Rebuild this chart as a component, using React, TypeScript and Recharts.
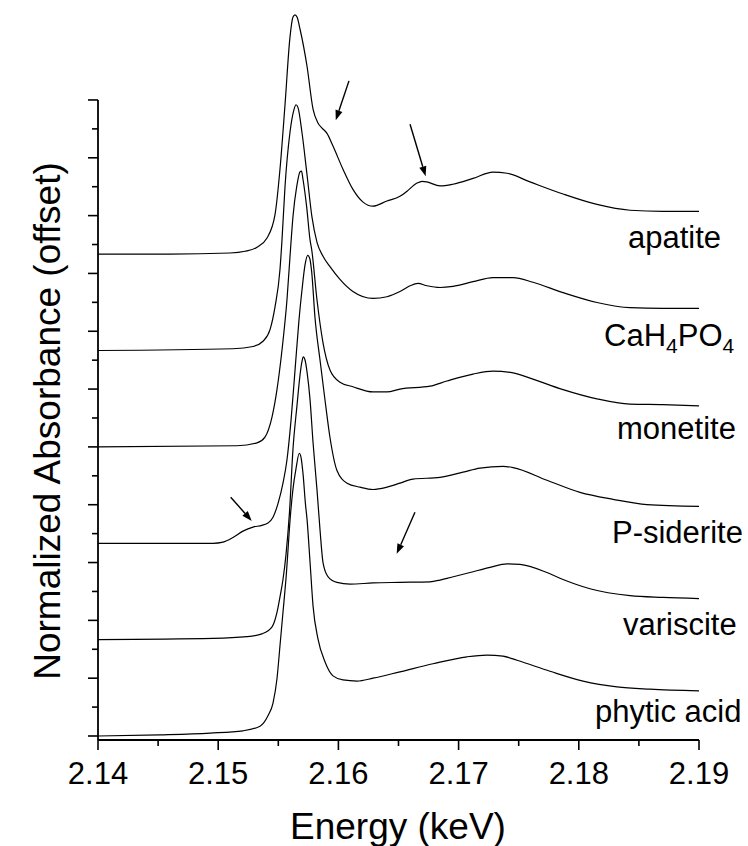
import React from 'react';
import { LineChart, Line, XAxis, YAxis, ReferenceLine, ReferenceDot, Label } from 'recharts';

const FONT = '"Liberation Sans", Arial, Helvetica, sans-serif';

const SAMPLES = ['apatite', 'CaH4PO4', 'monetite', 'P-siderite', 'variscite', 'phytic acid'];

// vertical offset added to each normalized spectrum
const OFFSETS = [8.333, 6.667, 5.0, 3.333, 1.667, 0];

// P K-edge XANES, energy in keV and normalized absorbance (no offset)
const apatiteE = [2.14, 2.14599, 2.15098, 2.15223, 2.15323, 2.15406, 2.15473, 2.15514, 2.15556, 2.15597, 2.15622, 2.15639, 2.15656, 2.15681, 2.15739, 2.15789, 2.1583, 2.15864, 2.15905, 2.15955, 2.16038, 2.16121, 2.16205, 2.16288, 2.16404, 2.16512, 2.16571, 2.16654, 2.16696, 2.16737, 2.16845, 2.16953, 2.1712, 2.17286, 2.17403, 2.17594, 2.17869, 2.18151, 2.18426, 2.187, 2.19];
const apatiteMu = [0, 0, 0.02, 0.05, 0.12, 0.28, 0.69, 1.47, 2.59, 3.75, 4.1, 4.14, 4.1, 3.89, 3.25, 2.51, 2.27, 2.18, 2.09, 1.87, 1.47, 1.12, 0.9, 0.83, 0.92, 1.0, 1.09, 1.23, 1.26, 1.25, 1.18, 1.21, 1.31, 1.42, 1.4, 1.25, 1.04, 0.86, 0.76, 0.74, 0.74];

const cahpoE = [2.14, 2.15123, 2.1529, 2.15373, 2.15431, 2.15473, 2.15514, 2.15531, 2.15556, 2.15597, 2.15631, 2.15647, 2.15664, 2.15697, 2.15739, 2.1578, 2.15822, 2.15872, 2.1593, 2.16013, 2.16121, 2.16288, 2.16404, 2.16512, 2.16596, 2.16662, 2.16737, 2.16845, 2.16953, 2.1712, 2.17286, 2.17453, 2.17619, 2.17869, 2.18151, 2.18426, 2.187, 2.19];
const cahpoMu = [0, 0.03, 0.07, 0.16, 0.36, 0.76, 1.4, 1.92, 2.84, 3.77, 4.17, 4.25, 4.2, 3.77, 3.04, 2.31, 1.87, 1.63, 1.45, 1.23, 1.02, 0.9, 0.93, 1.02, 1.12, 1.16, 1.12, 1.09, 1.11, 1.19, 1.26, 1.26, 1.18, 1.0, 0.83, 0.74, 0.73, 0.73];

const monetiteE = [2.14, 2.15156, 2.15323, 2.15389, 2.15448, 2.15489, 2.15531, 2.15572, 2.15603, 2.15622, 2.15653, 2.15681, 2.15693, 2.15706, 2.15736, 2.15764, 2.15778, 2.15822, 2.15872, 2.1593, 2.16013, 2.16121, 2.16288, 2.16404, 2.16512, 2.16762, 2.16903, 2.1712, 2.17286, 2.17453, 2.17594, 2.17869, 2.18151, 2.18426, 2.187, 2.19];
const monetiteMu = [0, 0.02, 0.07, 0.17, 0.52, 0.99, 1.68, 2.54, 3.46, 3.98, 4.5, 4.76, 4.77, 4.62, 4.15, 3.58, 3.41, 2.54, 1.8, 1.33, 1.12, 1.04, 0.95, 0.95, 1.0, 1.05, 1.14, 1.26, 1.31, 1.28, 1.19, 0.99, 0.83, 0.74, 0.73, 0.71];

const sideriteE = [2.14, 2.14957, 2.1504, 2.15123, 2.15206, 2.1529, 2.15364, 2.15414, 2.15456, 2.15498, 2.15539, 2.15572, 2.15606, 2.15639, 2.15672, 2.15697, 2.15722, 2.15745, 2.15761, 2.15778, 2.15805, 2.15847, 2.15889, 2.1593, 2.15988, 2.16072, 2.1618, 2.16288, 2.16404, 2.16512, 2.16621, 2.16845, 2.17037, 2.17178, 2.17369, 2.17453, 2.17735, 2.1801, 2.18285, 2.18567, 2.19];
const sideriteMu = [0, 0, 0.02, 0.1, 0.21, 0.28, 0.31, 0.35, 0.45, 0.69, 1.04, 1.44, 2.13, 2.99, 3.86, 4.38, 4.81, 4.98, 4.93, 4.69, 3.91, 3.17, 2.47, 1.83, 1.26, 1.04, 0.97, 0.93, 0.97, 1.04, 1.11, 1.14, 1.23, 1.3, 1.33, 1.31, 1.09, 0.88, 0.76, 0.67, 0.64];

const varisciteE = [2.14, 2.14957, 2.1524, 2.15364, 2.15448, 2.15489, 2.15514, 2.15539, 2.15564, 2.15593, 2.15622, 2.15656, 2.15681, 2.15697, 2.15708, 2.15722, 2.15739, 2.15764, 2.15789, 2.15822, 2.15847, 2.15872, 2.15913, 2.15988, 2.16097, 2.16288, 2.16512, 2.16762, 2.16845, 2.16903, 2.17095, 2.17261, 2.17403, 2.17511, 2.17735, 2.17869, 2.18093, 2.18426, 2.187, 2.19];
const varisciteMu = [0, 0.02, 0.05, 0.1, 0.22, 0.47, 0.74, 1.04, 1.47, 2.2, 3.29, 4.06, 4.58, 4.81, 4.89, 4.84, 4.63, 4.15, 3.41, 2.59, 1.9, 1.33, 1.09, 0.99, 0.96, 0.98, 0.99, 1.0, 1.03, 1.06, 1.16, 1.25, 1.31, 1.3, 1.16, 1.04, 0.88, 0.76, 0.73, 0.71];

const phyticE = [2.14, 2.14516, 2.14932, 2.15206, 2.15348, 2.15414, 2.15456, 2.15489, 2.15514, 2.15539, 2.15564, 2.15603, 2.15622, 2.15647, 2.15675, 2.15689, 2.15706, 2.15726, 2.15739, 2.15764, 2.15789, 2.1583, 2.15889, 2.15955, 2.16038, 2.16155, 2.16288, 2.16512, 2.16787, 2.1707, 2.17236, 2.17369, 2.17486, 2.1776, 2.18035, 2.18318, 2.18592, 2.19];
const phyticMu = [0, 0.02, 0.05, 0.09, 0.17, 0.35, 0.57, 0.99, 1.56, 2.14, 2.72, 3.87, 4.27, 4.62, 4.89, 4.82, 4.53, 4.01, 3.75, 3.01, 2.25, 1.68, 1.28, 1.04, 0.97, 0.95, 1.0, 1.11, 1.25, 1.37, 1.4, 1.38, 1.31, 1.12, 0.95, 0.85, 0.81, 0.78];

const ENERGIES = [apatiteE, cahpoE, monetiteE, sideriteE, varisciteE, phyticE];
const ABSORBANCE = [apatiteMu, cahpoMu, monetiteMu, sideriteMu, varisciteMu, phyticMu];

const X_TICKS = [2.14, 2.145, 2.15, 2.155, 2.16, 2.165, 2.17, 2.175, 2.18, 2.185, 2.19];
const Y_TICKS = [0, 0.5, 1, 1.5, 2, 2.5, 3, 3.5, 4, 4.5, 5, 5.5, 6, 6.5, 7, 7.5, 8, 8.5, 9, 9.5, 10, 10.5, 11];

// --- layout ---
const W = 748;
const H = 846;
const Y_DOMAIN: [number, number] = [-0.0692, 12.729];
const Y_AXIS_TOP = 11;

// name labels: left edge energy, baseline value
const NAME_POS = [
  { e: 2.18409, y: 8.44 },
  { e: 2.1821, y: 6.745 },
  { e: 2.18318, y: 5.137 },
  { e: 2.18276, y: 3.338 },
  { e: 2.18368, y: 1.747 },
  { e: 2.18135, y: 0.242 },
];

// annotation arrows: tail -> head
const ARROWS = [
  { from: { x: 2.16088, y: 11.33 }, to: { x: 2.15978, y: 10.65 } },
  { from: { x: 2.16596, y: 10.58 }, to: { x: 2.16726, y: 9.68 } },
  { from: { x: 2.15104, y: 4.13 }, to: { x: 2.15279, y: 3.72 } },
  { from: { x: 2.16637, y: 3.87 }, to: { x: 2.16485, y: 3.15 } },
];

const series = SAMPLES.map((name, i) =>
  ENERGIES[i].map((e, j) => ({ e, y: ABSORBANCE[i][j] + OFFSETS[i] }))
);

const isMajor = (v: number, step: number) => Math.abs(v / step - Math.round(v / step)) < 1e-6;

const YTick = (props: any) => {
  const { x, y, payload } = props;
  const len = isMajor(payload.value, 1) ? 10 : 6;
  return <line x1={x - len} x2={x} y1={y} y2={y} stroke="#000" strokeWidth={1.6} />;
};

const XTick = (props: any) => {
  const { x, y, payload } = props;
  const major = isMajor(payload.value, 0.01);
  return (
    <g>
      <line x1={x} x2={x} y1={y} y2={y + (major ? 10 : 6)} stroke="#000" strokeWidth={1.6} />
      {major && (
        <text x={x} y={y + 44} textAnchor="middle" fontSize={31} fontFamily={FONT} fill="#000">
          {payload.value.toFixed(2)}
        </text>
      )}
    </g>
  );
};

// digits in a formula are written as subscripts
const NameText = ({ cx, cy, name }: any) => {
  const parts = name.split(/(\d+)/).filter((s: string) => s.length > 0);
  let shift = 0;
  return (
    <text x={cx} y={cy} fontSize={31} fontFamily={FONT} fill="#000">
      {parts.map((p: string, k: number) => {
        const sub = /^\d+$/.test(p);
        const dy = sub ? 7 - shift : -shift;
        shift = sub ? 7 : 0;
        return (
          <tspan key={k} dy={dy} fontSize={sub ? 21 : 31}>
            {p}
          </tspan>
        );
      })}
    </text>
  );
};

const ArrowShape = (props: any) => {
  const { x1, y1, x2, y2 } = props;
  const dx = x2 - x1;
  const dy = y2 - y1;
  const len = Math.sqrt(dx * dx + dy * dy) || 1;
  const ux = dx / len;
  const uy = dy / len;
  const hl = 10;
  const hw = 3.6;
  const bx = x2 - ux * hl;
  const by = y2 - uy * hl;
  return (
    <g>
      <line x1={x1} y1={y1} x2={bx} y2={by} stroke="#000" strokeWidth={1.4} />
      <polygon
        points={`${x2},${y2} ${bx - uy * hw},${by + ux * hw} ${bx + uy * hw},${by - ux * hw}`}
        fill="#000"
      />
    </g>
  );
};

export default function App() {
  return (
    <div style={{ position: 'absolute', left: 0, top: 0, background: '#fff' }}>
      <LineChart width={W} height={H} margin={{ top: 0, right: 49, bottom: 0, left: 0 }}>
        <XAxis
          type="number"
          dataKey="e"
          domain={[2.14, 2.19]}
          ticks={X_TICKS}
          interval={0}
          height={106}
          tickSize={0}
          tickMargin={0}
          tickLine={false}
          axisLine={{ stroke: '#000', strokeWidth: 1.8 }}
          tick={<XTick />}
        >
          <Label
            content={() => (
              <text x={398} y={839} textAnchor="middle" fontSize={37} fontFamily={FONT} fill="#000">
                Energy (keV)
              </text>
            )}
          />
        </XAxis>
        <YAxis
          type="number"
          domain={Y_DOMAIN}
          allowDataOverflow
          ticks={Y_TICKS}
          interval={0}
          width={98}
          tickSize={0}
          tickMargin={0}
          tickLine={false}
          axisLine={false}
          tick={<YTick />}
        >
          <Label
            content={() => (
              <text
                x={60}
                y={421}
                transform="rotate(-90, 60, 421)"
                textAnchor="middle"
                fontSize={37}
                fontFamily={FONT}
                fill="#000"
              >
                Normalized Absorbance (offset)
              </text>
            )}
          />
        </YAxis>
        <ReferenceLine
          segment={[{ x: 2.14, y: Y_DOMAIN[0] }, { x: 2.14, y: Y_AXIS_TOP }]}
          stroke="#000"
          strokeWidth={1.8}
          ifOverflow="visible"
        />
        {series.map((data, i) => (
          <Line
            key={SAMPLES[i]}
            data={data}
            dataKey="y"
            type="monotone"
            stroke="#000"
            strokeWidth={1.2}
            dot={false}
            isAnimationActive={false}
          />
        ))}
        {ARROWS.map((a, i) => (
          <ReferenceLine key={`arrow-${i}`} segment={[a.from, a.to]} ifOverflow="visible" shape={<ArrowShape />} />
        ))}
        {SAMPLES.map((name, i) => (
          <ReferenceDot
            key={`name-${name}`}
            x={NAME_POS[i].e}
            y={NAME_POS[i].y}
            r={0}
            ifOverflow="visible"
            shape={(p: any) => <NameText cx={p.cx} cy={p.cy} name={name} />}
          />
        ))}
      </LineChart>
    </div>
  );
}
